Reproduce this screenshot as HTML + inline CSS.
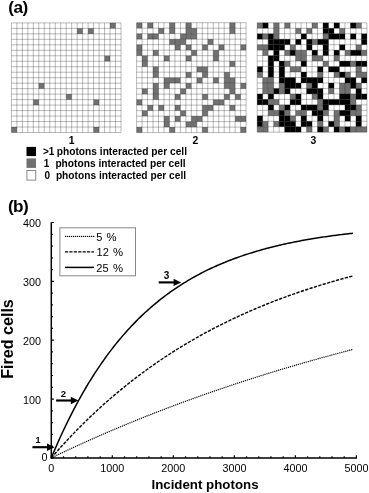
<!DOCTYPE html>
<html><head><meta charset="utf-8"><style>
html,body{margin:0;padding:0;background:#fff;}
svg{display:block;filter:grayscale(1);}
text{font-family:"Liberation Sans",sans-serif;fill:#000;}
</style></head><body>
<svg width="369" height="493" viewBox="0 0 369 493">
<rect width="369" height="493" fill="#fff"/>
<rect x="77.16" y="28.38" width="5.48" height="5.48" fill="#717171"/>
<rect x="38.80" y="83.18" width="5.48" height="5.48" fill="#717171"/>
<rect x="93.60" y="99.62" width="5.48" height="5.48" fill="#717171"/>
<rect x="88.12" y="28.38" width="5.48" height="5.48" fill="#717171"/>
<rect x="11.40" y="127.02" width="5.48" height="5.48" fill="#717171"/>
<rect x="110.04" y="22.90" width="5.48" height="5.48" fill="#717171"/>
<rect x="66.20" y="94.14" width="5.48" height="5.48" fill="#717171"/>
<rect x="104.56" y="55.78" width="5.48" height="5.48" fill="#717171"/>
<rect x="93.60" y="127.02" width="5.48" height="5.48" fill="#717171"/>
<rect x="33.32" y="99.62" width="5.48" height="5.48" fill="#717171"/>
<path d="M11.40 22.90V132.50M11.40 22.90H121.00M16.88 22.90V132.50M11.40 28.38H121.00M22.36 22.90V132.50M11.40 33.86H121.00M27.84 22.90V132.50M11.40 39.34H121.00M33.32 22.90V132.50M11.40 44.82H121.00M38.80 22.90V132.50M11.40 50.30H121.00M44.28 22.90V132.50M11.40 55.78H121.00M49.76 22.90V132.50M11.40 61.26H121.00M55.24 22.90V132.50M11.40 66.74H121.00M60.72 22.90V132.50M11.40 72.22H121.00M66.20 22.90V132.50M11.40 77.70H121.00M71.68 22.90V132.50M11.40 83.18H121.00M77.16 22.90V132.50M11.40 88.66H121.00M82.64 22.90V132.50M11.40 94.14H121.00M88.12 22.90V132.50M11.40 99.62H121.00M93.60 22.90V132.50M11.40 105.10H121.00M99.08 22.90V132.50M11.40 110.58H121.00M104.56 22.90V132.50M11.40 116.06H121.00M110.04 22.90V132.50M11.40 121.54H121.00M115.52 22.90V132.50M11.40 127.02H121.00M121.00 22.90V132.50M11.40 132.50H121.00" stroke="#000" stroke-opacity="0.27" stroke-width="1.0" fill="none"/>
<rect x="202.30" y="44.68" width="5.47" height="5.50" fill="#717171"/>
<rect x="174.92" y="116.12" width="5.47" height="5.50" fill="#717171"/>
<rect x="235.15" y="116.12" width="5.47" height="5.50" fill="#717171"/>
<rect x="153.02" y="94.14" width="5.47" height="5.50" fill="#717171"/>
<rect x="163.97" y="77.65" width="5.47" height="5.50" fill="#717171"/>
<rect x="229.67" y="88.64" width="5.47" height="5.50" fill="#717171"/>
<rect x="136.60" y="50.17" width="5.47" height="5.50" fill="#717171"/>
<rect x="147.55" y="33.69" width="5.47" height="5.50" fill="#717171"/>
<rect x="136.60" y="99.63" width="5.47" height="5.50" fill="#717171"/>
<rect x="218.72" y="99.63" width="5.47" height="5.50" fill="#717171"/>
<rect x="224.20" y="94.14" width="5.47" height="5.50" fill="#717171"/>
<rect x="174.92" y="77.65" width="5.47" height="5.50" fill="#717171"/>
<rect x="180.40" y="33.69" width="5.47" height="5.50" fill="#717171"/>
<rect x="185.88" y="28.20" width="5.47" height="5.50" fill="#717171"/>
<rect x="240.62" y="83.14" width="5.47" height="5.50" fill="#717171"/>
<rect x="174.92" y="39.19" width="5.47" height="5.50" fill="#717171"/>
<rect x="153.02" y="66.66" width="5.47" height="5.50" fill="#717171"/>
<rect x="229.67" y="61.17" width="5.47" height="5.50" fill="#717171"/>
<rect x="240.62" y="44.68" width="5.47" height="5.50" fill="#717171"/>
<rect x="136.60" y="22.70" width="5.47" height="5.50" fill="#717171"/>
<rect x="207.77" y="39.19" width="5.47" height="5.50" fill="#717171"/>
<rect x="229.67" y="22.70" width="5.47" height="5.50" fill="#717171"/>
<rect x="202.30" y="94.14" width="5.47" height="5.50" fill="#717171"/>
<rect x="213.25" y="77.65" width="5.47" height="5.50" fill="#717171"/>
<rect x="136.60" y="33.69" width="5.47" height="5.50" fill="#717171"/>
<rect x="142.07" y="88.64" width="5.47" height="5.50" fill="#717171"/>
<rect x="224.20" y="77.65" width="5.47" height="5.50" fill="#717171"/>
<rect x="202.30" y="105.12" width="5.47" height="5.50" fill="#717171"/>
<rect x="153.02" y="88.64" width="5.47" height="5.50" fill="#717171"/>
<rect x="229.67" y="83.14" width="5.47" height="5.50" fill="#717171"/>
<rect x="163.97" y="121.61" width="5.47" height="5.50" fill="#717171"/>
<rect x="218.72" y="44.68" width="5.47" height="5.50" fill="#717171"/>
<rect x="169.45" y="28.20" width="5.47" height="5.50" fill="#717171"/>
<rect x="191.35" y="116.12" width="5.47" height="5.50" fill="#717171"/>
<rect x="202.30" y="66.66" width="5.47" height="5.50" fill="#717171"/>
<rect x="153.02" y="50.17" width="5.47" height="5.50" fill="#717171"/>
<rect x="213.25" y="50.17" width="5.47" height="5.50" fill="#717171"/>
<rect x="185.88" y="22.70" width="5.47" height="5.50" fill="#717171"/>
<rect x="213.25" y="99.63" width="5.47" height="5.50" fill="#717171"/>
<rect x="163.97" y="83.14" width="5.47" height="5.50" fill="#717171"/>
<rect x="185.88" y="72.16" width="5.47" height="5.50" fill="#717171"/>
<rect x="191.35" y="28.20" width="5.47" height="5.50" fill="#717171"/>
<rect x="142.07" y="61.17" width="5.47" height="5.50" fill="#717171"/>
<rect x="142.07" y="110.62" width="5.47" height="5.50" fill="#717171"/>
<rect x="147.55" y="105.12" width="5.47" height="5.50" fill="#717171"/>
<rect x="185.88" y="33.69" width="5.47" height="5.50" fill="#717171"/>
<rect x="202.30" y="127.11" width="5.47" height="5.50" fill="#717171"/>
<rect x="158.50" y="105.12" width="5.47" height="5.50" fill="#717171"/>
<rect x="174.92" y="44.68" width="5.47" height="5.50" fill="#717171"/>
<rect x="153.02" y="72.16" width="5.47" height="5.50" fill="#717171"/>
<rect x="163.97" y="55.67" width="5.47" height="5.50" fill="#717171"/>
<rect x="191.35" y="50.17" width="5.47" height="5.50" fill="#717171"/>
<rect x="136.60" y="44.68" width="5.47" height="5.50" fill="#717171"/>
<rect x="240.62" y="116.12" width="5.47" height="5.50" fill="#717171"/>
<rect x="224.20" y="72.16" width="5.47" height="5.50" fill="#717171"/>
<rect x="169.45" y="77.65" width="5.47" height="5.50" fill="#717171"/>
<rect x="153.02" y="33.69" width="5.47" height="5.50" fill="#717171"/>
<rect x="169.45" y="127.11" width="5.47" height="5.50" fill="#717171"/>
<rect x="158.50" y="28.20" width="5.47" height="5.50" fill="#717171"/>
<rect x="153.02" y="83.14" width="5.47" height="5.50" fill="#717171"/>
<rect x="240.62" y="127.11" width="5.47" height="5.50" fill="#717171"/>
<rect x="185.88" y="121.61" width="5.47" height="5.50" fill="#717171"/>
<rect x="169.45" y="39.19" width="5.47" height="5.50" fill="#717171"/>
<rect x="202.30" y="110.62" width="5.47" height="5.50" fill="#717171"/>
<rect x="180.40" y="39.19" width="5.47" height="5.50" fill="#717171"/>
<rect x="229.67" y="105.12" width="5.47" height="5.50" fill="#717171"/>
<rect x="180.40" y="88.64" width="5.47" height="5.50" fill="#717171"/>
<rect x="142.07" y="55.67" width="5.47" height="5.50" fill="#717171"/>
<rect x="196.82" y="66.66" width="5.47" height="5.50" fill="#717171"/>
<rect x="185.88" y="83.14" width="5.47" height="5.50" fill="#717171"/>
<rect x="191.35" y="121.61" width="5.47" height="5.50" fill="#717171"/>
<rect x="196.82" y="116.12" width="5.47" height="5.50" fill="#717171"/>
<rect x="174.92" y="94.14" width="5.47" height="5.50" fill="#717171"/>
<rect x="235.15" y="94.14" width="5.47" height="5.50" fill="#717171"/>
<rect x="202.30" y="72.16" width="5.47" height="5.50" fill="#717171"/>
<rect x="213.25" y="55.67" width="5.47" height="5.50" fill="#717171"/>
<rect x="191.35" y="33.69" width="5.47" height="5.50" fill="#717171"/>
<rect x="185.88" y="44.68" width="5.47" height="5.50" fill="#717171"/>
<rect x="196.82" y="77.65" width="5.47" height="5.50" fill="#717171"/>
<rect x="136.60" y="127.11" width="5.47" height="5.50" fill="#717171"/>
<rect x="174.92" y="105.12" width="5.47" height="5.50" fill="#717171"/>
<rect x="229.67" y="28.20" width="5.47" height="5.50" fill="#717171"/>
<rect x="229.67" y="77.65" width="5.47" height="5.50" fill="#717171"/>
<rect x="185.88" y="55.67" width="5.47" height="5.50" fill="#717171"/>
<rect x="147.55" y="22.70" width="5.47" height="5.50" fill="#717171"/>
<rect x="180.40" y="110.62" width="5.47" height="5.50" fill="#717171"/>
<rect x="163.97" y="116.12" width="5.47" height="5.50" fill="#717171"/>
<rect x="169.45" y="22.70" width="5.47" height="5.50" fill="#717171"/>
<rect x="207.77" y="105.12" width="5.47" height="5.50" fill="#717171"/>
<rect x="224.20" y="83.14" width="5.47" height="5.50" fill="#717171"/>
<path d="M136.60 22.70V132.60M136.60 22.70H246.10M142.07 22.70V132.60M136.60 28.20H246.10M147.55 22.70V132.60M136.60 33.69H246.10M153.02 22.70V132.60M136.60 39.19H246.10M158.50 22.70V132.60M136.60 44.68H246.10M163.97 22.70V132.60M136.60 50.17H246.10M169.45 22.70V132.60M136.60 55.67H246.10M174.92 22.70V132.60M136.60 61.17H246.10M180.40 22.70V132.60M136.60 66.66H246.10M185.88 22.70V132.60M136.60 72.16H246.10M191.35 22.70V132.60M136.60 77.65H246.10M196.82 22.70V132.60M136.60 83.14H246.10M202.30 22.70V132.60M136.60 88.64H246.10M207.77 22.70V132.60M136.60 94.14H246.10M213.25 22.70V132.60M136.60 99.63H246.10M218.72 22.70V132.60M136.60 105.12H246.10M224.20 22.70V132.60M136.60 110.62H246.10M229.67 22.70V132.60M136.60 116.12H246.10M235.15 22.70V132.60M136.60 121.61H246.10M240.62 22.70V132.60M136.60 127.11H246.10M246.10 22.70V132.60M136.60 132.60H246.10" stroke="#000" stroke-opacity="0.27" stroke-width="1.0" fill="none"/>
<rect x="257.20" y="22.80" width="5.49" height="5.47" fill="#717171"/>
<rect x="262.69" y="22.80" width="5.49" height="5.47" fill="#000"/>
<rect x="273.65" y="22.80" width="5.49" height="5.47" fill="#717171"/>
<rect x="284.62" y="22.80" width="5.49" height="5.47" fill="#717171"/>
<rect x="312.05" y="22.80" width="5.49" height="5.47" fill="#717171"/>
<rect x="323.02" y="22.80" width="5.49" height="5.47" fill="#000"/>
<rect x="333.99" y="22.80" width="5.49" height="5.47" fill="#000"/>
<rect x="350.44" y="22.80" width="5.49" height="5.47" fill="#000"/>
<rect x="355.93" y="22.80" width="5.49" height="5.47" fill="#717171"/>
<rect x="273.65" y="28.27" width="5.49" height="5.47" fill="#717171"/>
<rect x="295.59" y="28.27" width="5.49" height="5.47" fill="#717171"/>
<rect x="306.56" y="28.27" width="5.49" height="5.47" fill="#717171"/>
<rect x="323.02" y="28.27" width="5.49" height="5.47" fill="#000"/>
<rect x="328.50" y="28.27" width="5.49" height="5.47" fill="#000"/>
<rect x="339.48" y="28.27" width="5.49" height="5.47" fill="#717171"/>
<rect x="257.20" y="33.74" width="5.49" height="5.47" fill="#000"/>
<rect x="262.69" y="33.74" width="5.49" height="5.47" fill="#717171"/>
<rect x="268.17" y="33.74" width="5.49" height="5.47" fill="#000"/>
<rect x="273.65" y="33.74" width="5.49" height="5.47" fill="#717171"/>
<rect x="301.08" y="33.74" width="5.49" height="5.47" fill="#000"/>
<rect x="323.02" y="33.74" width="5.49" height="5.47" fill="#717171"/>
<rect x="328.50" y="33.74" width="5.49" height="5.47" fill="#000"/>
<rect x="333.99" y="33.74" width="5.49" height="5.47" fill="#000"/>
<rect x="339.48" y="33.74" width="5.49" height="5.47" fill="#000"/>
<rect x="350.44" y="33.74" width="5.49" height="5.47" fill="#000"/>
<rect x="361.41" y="33.74" width="5.49" height="5.47" fill="#000"/>
<rect x="268.17" y="39.21" width="5.49" height="5.47" fill="#000"/>
<rect x="273.65" y="39.21" width="5.49" height="5.47" fill="#000"/>
<rect x="279.14" y="39.21" width="5.49" height="5.47" fill="#000"/>
<rect x="284.62" y="39.21" width="5.49" height="5.47" fill="#000"/>
<rect x="295.59" y="39.21" width="5.49" height="5.47" fill="#000"/>
<rect x="306.56" y="39.21" width="5.49" height="5.47" fill="#000"/>
<rect x="312.05" y="39.21" width="5.49" height="5.47" fill="#717171"/>
<rect x="317.53" y="39.21" width="5.49" height="5.47" fill="#000"/>
<rect x="323.02" y="39.21" width="5.49" height="5.47" fill="#000"/>
<rect x="361.41" y="39.21" width="5.49" height="5.47" fill="#000"/>
<rect x="257.20" y="44.68" width="5.49" height="5.47" fill="#717171"/>
<rect x="262.69" y="44.68" width="5.49" height="5.47" fill="#717171"/>
<rect x="268.17" y="44.68" width="5.49" height="5.47" fill="#000"/>
<rect x="273.65" y="44.68" width="5.49" height="5.47" fill="#000"/>
<rect x="279.14" y="44.68" width="5.49" height="5.47" fill="#000"/>
<rect x="290.11" y="44.68" width="5.49" height="5.47" fill="#717171"/>
<rect x="306.56" y="44.68" width="5.49" height="5.47" fill="#000"/>
<rect x="323.02" y="44.68" width="5.49" height="5.47" fill="#000"/>
<rect x="339.48" y="44.68" width="5.49" height="5.47" fill="#000"/>
<rect x="355.93" y="44.68" width="5.49" height="5.47" fill="#717171"/>
<rect x="262.69" y="50.15" width="5.49" height="5.47" fill="#717171"/>
<rect x="273.65" y="50.15" width="5.49" height="5.47" fill="#000"/>
<rect x="284.62" y="50.15" width="5.49" height="5.47" fill="#717171"/>
<rect x="290.11" y="50.15" width="5.49" height="5.47" fill="#000"/>
<rect x="295.59" y="50.15" width="5.49" height="5.47" fill="#717171"/>
<rect x="301.08" y="50.15" width="5.49" height="5.47" fill="#717171"/>
<rect x="312.05" y="50.15" width="5.49" height="5.47" fill="#000"/>
<rect x="323.02" y="50.15" width="5.49" height="5.47" fill="#000"/>
<rect x="333.99" y="50.15" width="5.49" height="5.47" fill="#000"/>
<rect x="344.96" y="50.15" width="5.49" height="5.47" fill="#717171"/>
<rect x="350.44" y="50.15" width="5.49" height="5.47" fill="#000"/>
<rect x="355.93" y="50.15" width="5.49" height="5.47" fill="#000"/>
<rect x="361.41" y="50.15" width="5.49" height="5.47" fill="#717171"/>
<rect x="268.17" y="55.62" width="5.49" height="5.47" fill="#000"/>
<rect x="273.65" y="55.62" width="5.49" height="5.47" fill="#000"/>
<rect x="295.59" y="55.62" width="5.49" height="5.47" fill="#717171"/>
<rect x="301.08" y="55.62" width="5.49" height="5.47" fill="#717171"/>
<rect x="312.05" y="55.62" width="5.49" height="5.47" fill="#717171"/>
<rect x="317.53" y="55.62" width="5.49" height="5.47" fill="#717171"/>
<rect x="333.99" y="55.62" width="5.49" height="5.47" fill="#717171"/>
<rect x="268.17" y="61.09" width="5.49" height="5.47" fill="#000"/>
<rect x="279.14" y="61.09" width="5.49" height="5.47" fill="#000"/>
<rect x="284.62" y="61.09" width="5.49" height="5.47" fill="#717171"/>
<rect x="301.08" y="61.09" width="5.49" height="5.47" fill="#000"/>
<rect x="323.02" y="61.09" width="5.49" height="5.47" fill="#717171"/>
<rect x="339.48" y="61.09" width="5.49" height="5.47" fill="#000"/>
<rect x="344.96" y="61.09" width="5.49" height="5.47" fill="#000"/>
<rect x="350.44" y="61.09" width="5.49" height="5.47" fill="#717171"/>
<rect x="355.93" y="61.09" width="5.49" height="5.47" fill="#000"/>
<rect x="361.41" y="61.09" width="5.49" height="5.47" fill="#000"/>
<rect x="257.20" y="66.56" width="5.49" height="5.47" fill="#000"/>
<rect x="268.17" y="66.56" width="5.49" height="5.47" fill="#000"/>
<rect x="279.14" y="66.56" width="5.49" height="5.47" fill="#000"/>
<rect x="290.11" y="66.56" width="5.49" height="5.47" fill="#717171"/>
<rect x="295.59" y="66.56" width="5.49" height="5.47" fill="#717171"/>
<rect x="317.53" y="66.56" width="5.49" height="5.47" fill="#000"/>
<rect x="328.50" y="66.56" width="5.49" height="5.47" fill="#000"/>
<rect x="333.99" y="66.56" width="5.49" height="5.47" fill="#000"/>
<rect x="355.93" y="66.56" width="5.49" height="5.47" fill="#717171"/>
<rect x="257.20" y="72.03" width="5.49" height="5.47" fill="#717171"/>
<rect x="268.17" y="72.03" width="5.49" height="5.47" fill="#000"/>
<rect x="279.14" y="72.03" width="5.49" height="5.47" fill="#000"/>
<rect x="301.08" y="72.03" width="5.49" height="5.47" fill="#000"/>
<rect x="317.53" y="72.03" width="5.49" height="5.47" fill="#717171"/>
<rect x="333.99" y="72.03" width="5.49" height="5.47" fill="#717171"/>
<rect x="339.48" y="72.03" width="5.49" height="5.47" fill="#000"/>
<rect x="344.96" y="72.03" width="5.49" height="5.47" fill="#717171"/>
<rect x="355.93" y="72.03" width="5.49" height="5.47" fill="#717171"/>
<rect x="361.41" y="72.03" width="5.49" height="5.47" fill="#717171"/>
<rect x="262.69" y="77.50" width="5.49" height="5.47" fill="#717171"/>
<rect x="268.17" y="77.50" width="5.49" height="5.47" fill="#717171"/>
<rect x="279.14" y="77.50" width="5.49" height="5.47" fill="#000"/>
<rect x="284.62" y="77.50" width="5.49" height="5.47" fill="#000"/>
<rect x="290.11" y="77.50" width="5.49" height="5.47" fill="#000"/>
<rect x="301.08" y="77.50" width="5.49" height="5.47" fill="#000"/>
<rect x="306.56" y="77.50" width="5.49" height="5.47" fill="#000"/>
<rect x="312.05" y="77.50" width="5.49" height="5.47" fill="#000"/>
<rect x="317.53" y="77.50" width="5.49" height="5.47" fill="#000"/>
<rect x="344.96" y="77.50" width="5.49" height="5.47" fill="#000"/>
<rect x="350.44" y="77.50" width="5.49" height="5.47" fill="#000"/>
<rect x="361.41" y="77.50" width="5.49" height="5.47" fill="#000"/>
<rect x="262.69" y="82.97" width="5.49" height="5.47" fill="#717171"/>
<rect x="268.17" y="82.97" width="5.49" height="5.47" fill="#717171"/>
<rect x="279.14" y="82.97" width="5.49" height="5.47" fill="#717171"/>
<rect x="284.62" y="82.97" width="5.49" height="5.47" fill="#000"/>
<rect x="290.11" y="82.97" width="5.49" height="5.47" fill="#000"/>
<rect x="295.59" y="82.97" width="5.49" height="5.47" fill="#000"/>
<rect x="306.56" y="82.97" width="5.49" height="5.47" fill="#717171"/>
<rect x="312.05" y="82.97" width="5.49" height="5.47" fill="#000"/>
<rect x="328.50" y="82.97" width="5.49" height="5.47" fill="#000"/>
<rect x="339.48" y="82.97" width="5.49" height="5.47" fill="#717171"/>
<rect x="344.96" y="82.97" width="5.49" height="5.47" fill="#717171"/>
<rect x="350.44" y="82.97" width="5.49" height="5.47" fill="#000"/>
<rect x="355.93" y="82.97" width="5.49" height="5.47" fill="#717171"/>
<rect x="262.69" y="88.44" width="5.49" height="5.47" fill="#717171"/>
<rect x="268.17" y="88.44" width="5.49" height="5.47" fill="#717171"/>
<rect x="273.65" y="88.44" width="5.49" height="5.47" fill="#000"/>
<rect x="279.14" y="88.44" width="5.49" height="5.47" fill="#717171"/>
<rect x="284.62" y="88.44" width="5.49" height="5.47" fill="#000"/>
<rect x="306.56" y="88.44" width="5.49" height="5.47" fill="#000"/>
<rect x="312.05" y="88.44" width="5.49" height="5.47" fill="#000"/>
<rect x="317.53" y="88.44" width="5.49" height="5.47" fill="#000"/>
<rect x="328.50" y="88.44" width="5.49" height="5.47" fill="#717171"/>
<rect x="339.48" y="88.44" width="5.49" height="5.47" fill="#717171"/>
<rect x="344.96" y="88.44" width="5.49" height="5.47" fill="#717171"/>
<rect x="355.93" y="88.44" width="5.49" height="5.47" fill="#000"/>
<rect x="257.20" y="93.91" width="5.49" height="5.47" fill="#000"/>
<rect x="268.17" y="93.91" width="5.49" height="5.47" fill="#000"/>
<rect x="290.11" y="93.91" width="5.49" height="5.47" fill="#717171"/>
<rect x="295.59" y="93.91" width="5.49" height="5.47" fill="#000"/>
<rect x="312.05" y="93.91" width="5.49" height="5.47" fill="#717171"/>
<rect x="317.53" y="93.91" width="5.49" height="5.47" fill="#000"/>
<rect x="339.48" y="93.91" width="5.49" height="5.47" fill="#000"/>
<rect x="344.96" y="93.91" width="5.49" height="5.47" fill="#000"/>
<rect x="350.44" y="93.91" width="5.49" height="5.47" fill="#717171"/>
<rect x="355.93" y="93.91" width="5.49" height="5.47" fill="#000"/>
<rect x="361.41" y="93.91" width="5.49" height="5.47" fill="#000"/>
<rect x="257.20" y="99.38" width="5.49" height="5.47" fill="#000"/>
<rect x="262.69" y="99.38" width="5.49" height="5.47" fill="#000"/>
<rect x="268.17" y="99.38" width="5.49" height="5.47" fill="#717171"/>
<rect x="273.65" y="99.38" width="5.49" height="5.47" fill="#717171"/>
<rect x="290.11" y="99.38" width="5.49" height="5.47" fill="#000"/>
<rect x="295.59" y="99.38" width="5.49" height="5.47" fill="#000"/>
<rect x="317.53" y="99.38" width="5.49" height="5.47" fill="#717171"/>
<rect x="323.02" y="99.38" width="5.49" height="5.47" fill="#000"/>
<rect x="328.50" y="99.38" width="5.49" height="5.47" fill="#000"/>
<rect x="333.99" y="99.38" width="5.49" height="5.47" fill="#000"/>
<rect x="339.48" y="99.38" width="5.49" height="5.47" fill="#000"/>
<rect x="344.96" y="99.38" width="5.49" height="5.47" fill="#000"/>
<rect x="350.44" y="99.38" width="5.49" height="5.47" fill="#717171"/>
<rect x="268.17" y="104.85" width="5.49" height="5.47" fill="#000"/>
<rect x="279.14" y="104.85" width="5.49" height="5.47" fill="#717171"/>
<rect x="284.62" y="104.85" width="5.49" height="5.47" fill="#000"/>
<rect x="301.08" y="104.85" width="5.49" height="5.47" fill="#000"/>
<rect x="306.56" y="104.85" width="5.49" height="5.47" fill="#000"/>
<rect x="312.05" y="104.85" width="5.49" height="5.47" fill="#000"/>
<rect x="317.53" y="104.85" width="5.49" height="5.47" fill="#717171"/>
<rect x="323.02" y="104.85" width="5.49" height="5.47" fill="#000"/>
<rect x="344.96" y="104.85" width="5.49" height="5.47" fill="#000"/>
<rect x="350.44" y="104.85" width="5.49" height="5.47" fill="#000"/>
<rect x="355.93" y="104.85" width="5.49" height="5.47" fill="#717171"/>
<rect x="268.17" y="110.32" width="5.49" height="5.47" fill="#717171"/>
<rect x="273.65" y="110.32" width="5.49" height="5.47" fill="#717171"/>
<rect x="279.14" y="110.32" width="5.49" height="5.47" fill="#000"/>
<rect x="284.62" y="110.32" width="5.49" height="5.47" fill="#717171"/>
<rect x="295.59" y="110.32" width="5.49" height="5.47" fill="#717171"/>
<rect x="301.08" y="110.32" width="5.49" height="5.47" fill="#717171"/>
<rect x="312.05" y="110.32" width="5.49" height="5.47" fill="#000"/>
<rect x="317.53" y="110.32" width="5.49" height="5.47" fill="#000"/>
<rect x="323.02" y="110.32" width="5.49" height="5.47" fill="#717171"/>
<rect x="333.99" y="110.32" width="5.49" height="5.47" fill="#717171"/>
<rect x="339.48" y="110.32" width="5.49" height="5.47" fill="#000"/>
<rect x="344.96" y="110.32" width="5.49" height="5.47" fill="#000"/>
<rect x="350.44" y="110.32" width="5.49" height="5.47" fill="#717171"/>
<rect x="355.93" y="110.32" width="5.49" height="5.47" fill="#717171"/>
<rect x="257.20" y="115.79" width="5.49" height="5.47" fill="#000"/>
<rect x="279.14" y="115.79" width="5.49" height="5.47" fill="#000"/>
<rect x="284.62" y="115.79" width="5.49" height="5.47" fill="#000"/>
<rect x="290.11" y="115.79" width="5.49" height="5.47" fill="#717171"/>
<rect x="301.08" y="115.79" width="5.49" height="5.47" fill="#000"/>
<rect x="317.53" y="115.79" width="5.49" height="5.47" fill="#000"/>
<rect x="333.99" y="115.79" width="5.49" height="5.47" fill="#717171"/>
<rect x="344.96" y="115.79" width="5.49" height="5.47" fill="#000"/>
<rect x="355.93" y="115.79" width="5.49" height="5.47" fill="#000"/>
<rect x="257.20" y="121.26" width="5.49" height="5.47" fill="#000"/>
<rect x="262.69" y="121.26" width="5.49" height="5.47" fill="#717171"/>
<rect x="273.65" y="121.26" width="5.49" height="5.47" fill="#717171"/>
<rect x="279.14" y="121.26" width="5.49" height="5.47" fill="#000"/>
<rect x="284.62" y="121.26" width="5.49" height="5.47" fill="#000"/>
<rect x="290.11" y="121.26" width="5.49" height="5.47" fill="#000"/>
<rect x="301.08" y="121.26" width="5.49" height="5.47" fill="#000"/>
<rect x="306.56" y="121.26" width="5.49" height="5.47" fill="#000"/>
<rect x="317.53" y="121.26" width="5.49" height="5.47" fill="#717171"/>
<rect x="328.50" y="121.26" width="5.49" height="5.47" fill="#000"/>
<rect x="333.99" y="121.26" width="5.49" height="5.47" fill="#717171"/>
<rect x="355.93" y="121.26" width="5.49" height="5.47" fill="#000"/>
<rect x="257.20" y="126.73" width="5.49" height="5.47" fill="#717171"/>
<rect x="262.69" y="126.73" width="5.49" height="5.47" fill="#717171"/>
<rect x="284.62" y="126.73" width="5.49" height="5.47" fill="#000"/>
<rect x="290.11" y="126.73" width="5.49" height="5.47" fill="#000"/>
<rect x="295.59" y="126.73" width="5.49" height="5.47" fill="#000"/>
<rect x="306.56" y="126.73" width="5.49" height="5.47" fill="#717171"/>
<rect x="317.53" y="126.73" width="5.49" height="5.47" fill="#000"/>
<rect x="323.02" y="126.73" width="5.49" height="5.47" fill="#717171"/>
<rect x="333.99" y="126.73" width="5.49" height="5.47" fill="#000"/>
<rect x="339.48" y="126.73" width="5.49" height="5.47" fill="#717171"/>
<rect x="344.96" y="126.73" width="5.49" height="5.47" fill="#000"/>
<rect x="350.44" y="126.73" width="5.49" height="5.47" fill="#717171"/>
<rect x="355.93" y="126.73" width="5.49" height="5.47" fill="#717171"/>
<rect x="361.41" y="126.73" width="5.49" height="5.47" fill="#717171"/>
<path d="M257.20 22.80V132.20M257.20 22.80H366.90M262.69 22.80V132.20M257.20 28.27H366.90M268.17 22.80V132.20M257.20 33.74H366.90M273.65 22.80V132.20M257.20 39.21H366.90M279.14 22.80V132.20M257.20 44.68H366.90M284.62 22.80V132.20M257.20 50.15H366.90M290.11 22.80V132.20M257.20 55.62H366.90M295.59 22.80V132.20M257.20 61.09H366.90M301.08 22.80V132.20M257.20 66.56H366.90M306.56 22.80V132.20M257.20 72.03H366.90M312.05 22.80V132.20M257.20 77.50H366.90M317.53 22.80V132.20M257.20 82.97H366.90M323.02 22.80V132.20M257.20 88.44H366.90M328.50 22.80V132.20M257.20 93.91H366.90M333.99 22.80V132.20M257.20 99.38H366.90M339.48 22.80V132.20M257.20 104.85H366.90M344.96 22.80V132.20M257.20 110.32H366.90M350.44 22.80V132.20M257.20 115.79H366.90M355.93 22.80V132.20M257.20 121.26H366.90M361.41 22.80V132.20M257.20 126.73H366.90M366.90 22.80V132.20M257.20 132.20H366.90" stroke="#000" stroke-opacity="0.27" stroke-width="1.0" fill="none"/>
<path d="M51.30 222.50V457.90H357.00" stroke="#000" stroke-width="1.5" fill="none"/>
<path d="M51.30 457.90h2.6M51.30 446.13h1.6M51.30 434.36h1.6M51.30 422.59h1.6M51.30 410.82h1.6M51.30 399.05h2.6M51.30 387.28h1.6M51.30 375.51h1.6M51.30 363.74h1.6M51.30 351.97h1.6M51.30 340.20h2.6M51.30 328.43h1.6M51.30 316.66h1.6M51.30 304.89h1.6M51.30 293.12h1.6M51.30 281.35h2.6M51.30 269.58h1.6M51.30 257.81h1.6M51.30 246.04h1.6M51.30 234.27h1.6M51.30 222.50h2.6M51.30 457.90v-2.6M63.50 457.90v-1.6M75.71 457.90v-1.6M87.91 457.90v-1.6M100.12 457.90v-1.6M112.32 457.90v-2.6M124.52 457.90v-1.6M136.73 457.90v-1.6M148.93 457.90v-1.6M161.14 457.90v-1.6M173.34 457.90v-2.6M185.54 457.90v-1.6M197.75 457.90v-1.6M209.95 457.90v-1.6M222.16 457.90v-1.6M234.36 457.90v-2.6M246.56 457.90v-1.6M258.77 457.90v-1.6M270.97 457.90v-1.6M283.18 457.90v-1.6M295.38 457.90v-2.6M307.58 457.90v-1.6M319.79 457.90v-1.6M331.99 457.90v-1.6M344.20 457.90v-1.6M356.40 457.90v-2.6" stroke="#000" stroke-width="1.2" fill="none"/>
<path d="M51.30,457.90 L52.81,457.17 L54.32,456.45 L55.83,455.73 L57.33,455.01 L58.84,454.29 L60.35,453.58 L61.86,452.86 L63.37,452.15 L64.88,451.44 L66.38,450.74 L67.89,450.03 L69.40,449.33 L70.91,448.63 L72.42,447.93 L73.93,447.24 L75.43,446.54 L76.94,445.85 L78.45,445.16 L79.96,444.48 L81.47,443.79 L82.98,443.11 L84.49,442.43 L85.99,441.75 L87.50,441.07 L89.01,440.40 L90.52,439.73 L92.03,439.06 L93.54,438.39 L95.04,437.72 L96.55,437.06 L98.06,436.40 L99.57,435.74 L101.08,435.08 L102.59,434.42 L104.09,433.77 L105.60,433.12 L107.11,432.47 L108.62,431.82 L110.13,431.17 L111.64,430.53 L113.14,429.89 L114.65,429.25 L116.16,428.61 L117.67,427.98 L119.18,427.34 L120.69,426.71 L122.20,426.08 L123.70,425.45 L125.21,424.83 L126.72,424.20 L128.23,423.58 L129.74,422.96 L131.25,422.34 L132.75,421.72 L134.26,421.11 L135.77,420.50 L137.28,419.89 L138.79,419.28 L140.30,418.67 L141.80,418.06 L143.31,417.46 L144.82,416.86 L146.33,416.26 L147.84,415.66 L149.35,415.07 L150.86,414.47 L152.36,413.88 L153.87,413.29 L155.38,412.70 L156.89,412.11 L158.40,411.53 L159.91,410.95 L161.41,410.36 L162.92,409.78 L164.43,409.21 L165.94,408.63 L167.45,408.06 L168.96,407.48 L170.46,406.91 L171.97,406.34 L173.48,405.78 L174.99,405.21 L176.50,404.65 L178.01,404.09 L179.52,403.53 L181.02,402.97 L182.53,402.41 L184.04,401.85 L185.55,401.30 L187.06,400.75 L188.57,400.20 L190.07,399.65 L191.58,399.11 L193.09,398.56 L194.60,398.02 L196.11,397.48 L197.62,396.94 L199.12,396.40 L200.63,395.86 L202.14,395.33 L203.65,394.79 L205.16,394.26 L206.67,393.73 L208.18,393.20 L209.68,392.68 L211.19,392.15 L212.70,391.63 L214.21,391.11 L215.72,390.59 L217.23,390.07 L218.73,389.55 L220.24,389.04 L221.75,388.52 L223.26,388.01 L224.77,387.50 L226.28,386.99 L227.78,386.48 L229.29,385.98 L230.80,385.47 L232.31,384.97 L233.82,384.47 L235.33,383.97 L236.83,383.47 L238.34,382.97 L239.85,382.48 L241.36,381.98 L242.87,381.49 L244.38,381.00 L245.89,380.51 L247.39,380.03 L248.90,379.54 L250.41,379.05 L251.92,378.57 L253.43,378.09 L254.94,377.61 L256.44,377.13 L257.95,376.65 L259.46,376.18 L260.97,375.70 L262.48,375.23 L263.99,374.76 L265.49,374.29 L267.00,373.82 L268.51,373.36 L270.02,372.89 L271.53,372.43 L273.04,371.96 L274.55,371.50 L276.05,371.04 L277.56,370.58 L279.07,370.13 L280.58,369.67 L282.09,369.22 L283.60,368.77 L285.10,368.31 L286.61,367.86 L288.12,367.42 L289.63,366.97 L291.14,366.52 L292.65,366.08 L294.15,365.64 L295.66,365.19 L297.17,364.75 L298.68,364.32 L300.19,363.88 L301.70,363.44 L303.21,363.01 L304.71,362.57 L306.22,362.14 L307.73,361.71 L309.24,361.28 L310.75,360.85 L312.26,360.43 L313.76,360.00 L315.27,359.58 L316.78,359.15 L318.29,358.73 L319.80,358.31 L321.31,357.89 L322.81,357.47 L324.32,357.06 L325.83,356.64 L327.34,356.23 L328.85,355.82 L330.36,355.41 L331.87,355.00 L333.37,354.59 L334.88,354.18 L336.39,353.77 L337.90,353.37 L339.41,352.96 L340.92,352.56 L342.42,352.16 L343.93,351.76 L345.44,351.36 L346.95,350.96 L348.46,350.57 L349.97,350.17 L351.47,349.78 L352.98,349.39" stroke="#000" stroke-width="1.3" stroke-dasharray="0.1 1.95" stroke-linecap="round" fill="none"/>
<path d="M51.30,457.90 L52.81,456.16 L54.32,454.43 L55.83,452.72 L57.33,451.02 L58.84,449.33 L60.35,447.66 L61.86,445.99 L63.37,444.34 L64.88,442.70 L66.38,441.07 L67.89,439.46 L69.40,437.86 L70.91,436.27 L72.42,434.69 L73.93,433.12 L75.43,431.56 L76.94,430.02 L78.45,428.48 L79.96,426.96 L81.47,425.45 L82.98,423.95 L84.49,422.46 L85.99,420.99 L87.50,419.52 L89.01,418.06 L90.52,416.62 L92.03,415.18 L93.54,413.76 L95.04,412.35 L96.55,410.95 L98.06,409.55 L99.57,408.17 L101.08,406.80 L102.59,405.44 L104.09,404.09 L105.60,402.74 L107.11,401.41 L108.62,400.09 L110.13,398.78 L111.64,397.48 L113.14,396.18 L114.65,394.90 L116.16,393.63 L117.67,392.36 L119.18,391.11 L120.69,389.86 L122.20,388.62 L123.70,387.40 L125.21,386.18 L126.72,384.97 L128.23,383.77 L129.74,382.58 L131.25,381.39 L132.75,380.22 L134.26,379.05 L135.77,377.90 L137.28,376.75 L138.79,375.61 L140.30,374.48 L141.80,373.36 L143.31,372.24 L144.82,371.14 L146.33,370.04 L147.84,368.95 L149.35,367.86 L150.86,366.79 L152.36,365.72 L153.87,364.67 L155.38,363.62 L156.89,362.57 L158.40,361.54 L159.91,360.51 L161.41,359.49 L162.92,358.48 L164.43,357.47 L165.94,356.48 L167.45,355.49 L168.96,354.50 L170.46,353.53 L171.97,352.56 L173.48,351.60 L174.99,350.65 L176.50,349.70 L178.01,348.76 L179.52,347.83 L181.02,346.90 L182.53,345.98 L184.04,345.07 L185.55,344.16 L187.06,343.26 L188.57,342.37 L190.07,341.49 L191.58,340.61 L193.09,339.74 L194.60,338.87 L196.11,338.01 L197.62,337.16 L199.12,336.31 L200.63,335.47 L202.14,334.63 L203.65,333.80 L205.16,332.98 L206.67,332.17 L208.18,331.36 L209.68,330.55 L211.19,329.75 L212.70,328.96 L214.21,328.17 L215.72,327.39 L217.23,326.62 L218.73,325.85 L220.24,325.09 L221.75,324.33 L223.26,323.57 L224.77,322.83 L226.28,322.09 L227.78,321.35 L229.29,320.62 L230.80,319.90 L232.31,319.18 L233.82,318.46 L235.33,317.75 L236.83,317.05 L238.34,316.35 L239.85,315.66 L241.36,314.97 L242.87,314.29 L244.38,313.61 L245.89,312.93 L247.39,312.27 L248.90,311.60 L250.41,310.94 L251.92,310.29 L253.43,309.64 L254.94,309.00 L256.44,308.36 L257.95,307.72 L259.46,307.10 L260.97,306.47 L262.48,305.85 L263.99,305.23 L265.49,304.62 L267.00,304.02 L268.51,303.41 L270.02,302.82 L271.53,302.22 L273.04,301.63 L274.55,301.05 L276.05,300.47 L277.56,299.89 L279.07,299.32 L280.58,298.75 L282.09,298.19 L283.60,297.63 L285.10,297.08 L286.61,296.52 L288.12,295.98 L289.63,295.43 L291.14,294.90 L292.65,294.36 L294.15,293.83 L295.66,293.30 L297.17,292.78 L298.68,292.26 L300.19,291.74 L301.70,291.23 L303.21,290.73 L304.71,290.22 L306.22,289.72 L307.73,289.22 L309.24,288.73 L310.75,288.24 L312.26,287.76 L313.76,287.27 L315.27,286.80 L316.78,286.32 L318.29,285.85 L319.80,285.38 L321.31,284.92 L322.81,284.45 L324.32,284.00 L325.83,283.54 L327.34,283.09 L328.85,282.64 L330.36,282.20 L331.87,281.76 L333.37,281.32 L334.88,280.89 L336.39,280.45 L337.90,280.03 L339.41,279.60 L340.92,279.18 L342.42,278.76 L343.93,278.35 L345.44,277.93 L346.95,277.52 L348.46,277.12 L349.97,276.71 L351.47,276.31 L352.98,275.91" stroke="#000" stroke-width="1.4" stroke-dasharray="3.3 1.3" fill="none"/>
<path d="M51.30,457.90 L52.81,454.29 L54.32,450.74 L55.83,447.24 L57.33,443.79 L58.84,440.40 L60.35,437.06 L61.86,433.77 L63.37,430.53 L64.88,427.34 L66.38,424.20 L67.89,421.11 L69.40,418.06 L70.91,415.07 L72.42,412.11 L73.93,409.21 L75.43,406.34 L76.94,403.53 L78.45,400.75 L79.96,398.02 L81.47,395.33 L82.98,392.68 L84.49,390.07 L85.99,387.50 L87.50,384.97 L89.01,382.48 L90.52,380.03 L92.03,377.61 L93.54,375.23 L95.04,372.89 L96.55,370.58 L98.06,368.31 L99.57,366.08 L101.08,363.88 L102.59,361.71 L104.09,359.58 L105.60,357.47 L107.11,355.41 L108.62,353.37 L110.13,351.36 L111.64,349.39 L113.14,347.44 L114.65,345.52 L116.16,343.64 L117.67,341.78 L119.18,339.95 L120.69,338.15 L122.20,336.38 L123.70,334.63 L125.21,332.91 L126.72,331.22 L128.23,329.55 L129.74,327.91 L131.25,326.30 L132.75,324.71 L134.26,323.14 L135.77,321.60 L137.28,320.08 L138.79,318.58 L140.30,317.11 L141.80,315.66 L143.31,314.23 L144.82,312.82 L146.33,311.44 L147.84,310.07 L149.35,308.73 L150.86,307.41 L152.36,306.11 L153.87,304.83 L155.38,303.56 L156.89,302.32 L158.40,301.10 L159.91,299.89 L161.41,298.71 L162.92,297.54 L164.43,296.39 L165.94,295.25 L167.45,294.14 L168.96,293.04 L170.46,291.96 L171.97,290.89 L173.48,289.85 L174.99,288.81 L176.50,287.80 L178.01,286.80 L179.52,285.81 L181.02,284.84 L182.53,283.88 L184.04,282.94 L185.55,282.02 L187.06,281.10 L188.57,280.20 L190.07,279.32 L191.58,278.45 L193.09,277.59 L194.60,276.75 L196.11,275.91 L197.62,275.10 L199.12,274.29 L200.63,273.50 L202.14,272.71 L203.65,271.94 L205.16,271.19 L206.67,270.44 L208.18,269.70 L209.68,268.98 L211.19,268.27 L212.70,267.57 L214.21,266.88 L215.72,266.20 L217.23,265.53 L218.73,264.87 L220.24,264.22 L221.75,263.58 L223.26,262.95 L224.77,262.33 L226.28,261.72 L227.78,261.11 L229.29,260.52 L230.80,259.94 L232.31,259.37 L233.82,258.80 L235.33,258.24 L236.83,257.70 L238.34,257.16 L239.85,256.63 L241.36,256.10 L242.87,255.59 L244.38,255.08 L245.89,254.58 L247.39,254.09 L248.90,253.60 L250.41,253.13 L251.92,252.66 L253.43,252.20 L254.94,251.74 L256.44,251.29 L257.95,250.85 L259.46,250.42 L260.97,249.99 L262.48,249.57 L263.99,249.15 L265.49,248.74 L267.00,248.34 L268.51,247.94 L270.02,247.55 L271.53,247.17 L273.04,246.79 L274.55,246.42 L276.05,246.05 L277.56,245.69 L279.07,245.34 L280.58,244.99 L282.09,244.64 L283.60,244.30 L285.10,243.97 L286.61,243.64 L288.12,243.31 L289.63,243.00 L291.14,242.68 L292.65,242.37 L294.15,242.07 L295.66,241.77 L297.17,241.47 L298.68,241.18 L300.19,240.89 L301.70,240.61 L303.21,240.33 L304.71,240.06 L306.22,239.79 L307.73,239.53 L309.24,239.27 L310.75,239.01 L312.26,238.76 L313.76,238.51 L315.27,238.26 L316.78,238.02 L318.29,237.78 L319.80,237.55 L321.31,237.32 L322.81,237.09 L324.32,236.87 L325.83,236.65 L327.34,236.43 L328.85,236.21 L330.36,236.00 L331.87,235.80 L333.37,235.59 L334.88,235.39 L336.39,235.20 L337.90,235.00 L339.41,234.81 L340.92,234.62 L342.42,234.43 L343.93,234.25 L345.44,234.07 L346.95,233.89 L348.46,233.72 L349.97,233.55 L351.47,233.38 L352.98,233.21" stroke="#000" stroke-width="1.5" fill="none"/>
<rect x="59.9" y="227.8" width="75.6" height="48" fill="#fff" stroke="#888" stroke-width="1"/>
<path d="M65.6 236.4H94" stroke="#000" stroke-width="1.3" stroke-dasharray="0.1 1.9" stroke-linecap="round"/>
<path d="M65 251.9H94" stroke="#000" stroke-width="1.4" stroke-dasharray="3.2 1.2"/>
<path d="M65 267.4H94" stroke="#000" stroke-width="1.5"/>
<path d="M32.4 447.2H48.0" stroke="#000" stroke-width="2.15"/><path d="M54.6 447.2L47.0 443.5L47.0 450.9Z" fill="#000"/>
<path d="M56.1 400.5H71.80000000000001" stroke="#000" stroke-width="2.15"/><path d="M78.4 400.5L70.80000000000001 396.8L70.80000000000001 404.2Z" fill="#000"/>
<path d="M158.7 282.4H174.6" stroke="#000" stroke-width="2.15"/><path d="M181.2 282.4L173.6 278.7L173.6 286.09999999999997Z" fill="#000"/>
<text x="8.3" y="13.1" font-size="17.2" font-weight="bold" text-anchor="start" letter-spacing="-0.6">(a)</text>
<text x="8.1" y="211.9" font-size="17.2" font-weight="bold" text-anchor="start" letter-spacing="-0.7">(b)</text>
<text x="71.7" y="143.9" font-size="10.4" font-weight="bold" text-anchor="middle" >1</text>
<text x="195.4" y="143.9" font-size="10.4" font-weight="bold" text-anchor="middle" >2</text>
<text x="313.3" y="143.9" font-size="10.4" font-weight="bold" text-anchor="middle" >3</text>
<rect x="26.5" y="146.9" width="9.5" height="9.2" fill="#000"/>
<rect x="26.5" y="158.4" width="9.5" height="9.5" fill="#717171"/>
<rect x="26.9" y="170.5" width="8.8" height="9.6" fill="#fff" stroke="#8a8a8a" stroke-width="1"/>
<text x="43.0" y="154.8" font-size="10" font-weight="bold" text-anchor="start" >&gt;1</text>
<text x="56.8" y="154.8" font-size="10.2" font-weight="bold" text-anchor="start" >photons interacted per cell</text>
<text x="43.8" y="166.8" font-size="10" font-weight="bold" text-anchor="start" >1</text>
<text x="55.4" y="166.8" font-size="10.2" font-weight="bold" text-anchor="start" >photons interacted per cell</text>
<text x="44.5" y="178.5" font-size="10" font-weight="bold" text-anchor="start" >0</text>
<text x="55.9" y="178.5" font-size="10.2" font-weight="bold" text-anchor="start" >photons interacted per cell</text>
<text x="41.0" y="227.1" font-size="10.8" font-weight="normal" text-anchor="end" >400</text>
<text x="41.0" y="285.9" font-size="10.8" font-weight="normal" text-anchor="end" >300</text>
<text x="41.0" y="344.8" font-size="10.8" font-weight="normal" text-anchor="end" >200</text>
<text x="41.0" y="403.6" font-size="10.8" font-weight="normal" text-anchor="end" >100</text>
<text x="47.6" y="460.7" font-size="10.8" font-weight="normal" text-anchor="end" >0</text>
<text x="51.3" y="471.9" font-size="10.8" font-weight="normal" text-anchor="middle" >0</text>
<text x="112.3" y="471.9" font-size="10.8" font-weight="normal" text-anchor="middle" >1000</text>
<text x="173.3" y="471.9" font-size="10.8" font-weight="normal" text-anchor="middle" >2000</text>
<text x="234.4" y="471.9" font-size="10.8" font-weight="normal" text-anchor="middle" >3000</text>
<text x="295.4" y="471.9" font-size="10.8" font-weight="normal" text-anchor="middle" >4000</text>
<text x="356.4" y="471.9" font-size="10.8" font-weight="normal" text-anchor="middle" >5000</text>
<text x="205" y="488.7" font-size="13.3" font-weight="bold" text-anchor="middle" >Incident photons</text>
<text x="0" y="0" font-size="16.1" font-weight="bold" text-anchor="middle" transform="translate(13 339) rotate(-90)">Fired cells</text>
<text x="96.3" y="240.8" font-size="11" font-weight="normal" text-anchor="start" >5</text>
<text x="106.6" y="240.8" font-size="11.3" font-weight="normal" text-anchor="start" >%</text>
<text x="96.6" y="255.9" font-size="11" font-weight="normal" text-anchor="start" >12</text>
<text x="113.1" y="255.9" font-size="11.3" font-weight="normal" text-anchor="start" >%</text>
<text x="96.3" y="271.5" font-size="11" font-weight="normal" text-anchor="start" >25</text>
<text x="113.1" y="271.5" font-size="11.3" font-weight="normal" text-anchor="start" >%</text>
<text x="35.6" y="442.6" font-size="9" font-weight="bold" text-anchor="start" >1</text>
<text x="60.7" y="397.3" font-size="9.5" font-weight="bold" text-anchor="start" >2</text>
<text x="163.7" y="278.5" font-size="10" font-weight="bold" text-anchor="start" >3</text>
</svg>
</body></html>
